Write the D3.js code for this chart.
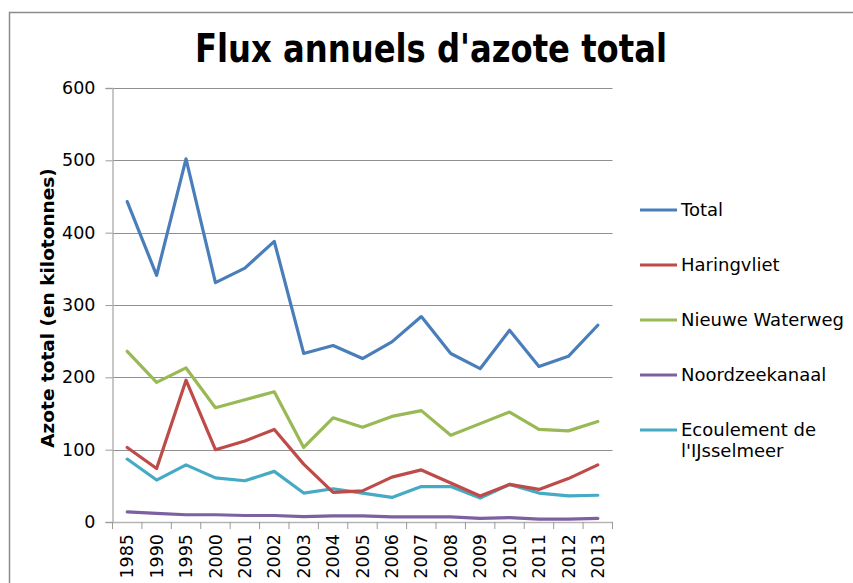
<!DOCTYPE html>
<html>
<head>
<meta charset="utf-8">
<script src="https://cdn.jsdelivr.net/npm/d3@7"></script>
<style>
body { margin: 0; background: #fff; }
text { font-family: "DejaVu Sans", Verdana, sans-serif; }
</style>
</head>
<body>
<script>
let years = ["1985","1990","1995","2000","2001","2002","2003","2004","2005","2006","2007","2008","2009","2010","2011","2012","2013"]
let yTicks = [0,100,200,300,400,500,600]
let seriesNames = ["Total","Haringvliet","Nieuwe Waterweg","Noordzeekanaal","Ecoulement de l'IJsselmeer"]
let colors = ["#4a7ebb","#be4b48","#98b954","#7d60a0","#46aac5"]

let total = [443,341,502,331,351,388,233,244,226,249,284,233,212,265,215,229,272]
let haringvliet = [103,74,196,100,112,128,80,41,43,62,72,54,36,52,45,60,79]
let nieuweWaterweg = [236,193,213,158,169,180,103,144,131,146,154,120,136,152,128,126,139]
let noordzeekanaal = [14,12,10,10,9,9,7.5,8.5,8.5,7,7,7,5,6,4,4,5]
let ijsselmeer = [87,58,79,61,57,70,40,46,40,34,49,49,33,52,40,36,37]

let allSeries = [total,haringvliet,nieuweWaterweg,noordzeekanaal,ijsselmeer]

let w = 853
let h = 583
let svg = d3.select("body")
    .append("svg")
    .attr("width", w)
    .attr("height", h)

// outer frame
svg.append("rect")
    .attr("x", 9.5)
    .attr("y", 12.5)
    .attr("width", 900)
    .attr("height", 700)
    .attr("fill", "#fff")
    .attr("stroke", "#8c8c8c")
    .attr("stroke-width", 1.5)

svg.append("text")
    .attr("x", 431)
    .attr("y", 62)
    .attr("text-anchor", "middle")
    .attr("font-size", 39)
    .attr("font-weight", "bold")
    .attr("textLength", 472)
    .attr("lengthAdjust", "spacingAndGlyphs")
    .text("Flux annuels d'azote total")

let pLeft = 112.5, pRight = 612.5, pTop = 88, pBottom = 522
let xScale = d3.scaleBand()
    .domain(years)
    .range([pLeft, pRight])
let yScale = d3.scaleLinear()
    .domain([0,600])
    .range([pBottom, pTop])

// gridlines
svg.append("g")
    .selectAll("line")
    .data(yTicks.filter(d=>d>0))
    .enter()
    .append("line")
    .attr("x1", pLeft)
    .attr("x2", pRight)
    .attr("y1", d=>Math.round(yScale(d))+0.5)
    .attr("y2", d=>Math.round(yScale(d))+0.5)
    .attr("stroke", "#8f8f8f")
    .attr("stroke-width", 1)

let yAxis = d3.axisLeft(yScale)
    .tickValues(yTicks)
    .tickSize(7)
    .tickPadding(10)
let yg = svg.append("g")
    .attr("transform", `translate(${pLeft},0)`)
    .call(yAxis)
yg.select(".domain").attr("stroke", "#b5b5b5").attr("stroke-width", 1.5)
yg.selectAll(".tick line").attr("stroke", "#9a9a9a")
yg.selectAll(".tick text")
    .attr("font-size", 17.5)
    .attr("font-family", "DejaVu Sans")
    .attr("fill", "#000")

let xAxis = d3.axisBottom(xScale)
    .tickSize(0)
let xg = svg.append("g")
    .attr("transform", `translate(0,${pBottom})`)
    .call(xAxis)
xg.select(".domain").attr("stroke", "#b5b5b5").attr("stroke-width", 1.5)
xg.selectAll(".tick text")
    .attr("font-size", 17.5)
    .attr("font-family", "DejaVu Sans")
    .attr("fill", "#000")
    .attr("transform", "rotate(-90)")
    .attr("text-anchor", "end")
    .attr("x", -12)
    .attr("y", 0)
    .attr("dy", "0.35em")
// band boundary ticks
xg.selectAll(".bt")
    .data(years.map(d=>xScale(d)).concat([pRight]))
    .enter()
    .append("line")
    .attr("x1", d=>d)
    .attr("x2", d=>d)
    .attr("y1", 0)
    .attr("y2", 7)
    .attr("stroke", "#9a9a9a")

svg.append("text")
    .attr("transform", "translate(54,308) rotate(-90)")
    .attr("text-anchor", "middle")
    .attr("font-size", 18.5)
    .attr("font-weight", "bold")
    .text("Azote total (en kilotonnes)")

let line = d3.line()
    .x((d,i)=>xScale(years[i]) + xScale.bandwidth()/2)
    .y(d=>yScale(d))

// draw bottom series first so Total sits on top like the reference
let order = [4,3,2,1,0]
svg.append("g")
    .selectAll("path")
    .data(order)
    .enter()
    .append("path")
    .attr("d", i=>line(allSeries[i]))
    .attr("fill", "none")
    .attr("stroke", i=>colors[i])
    .attr("stroke-width", 3.2)
    .attr("stroke-linejoin", "round")
    .attr("stroke-linecap", "round")

// legend
let legY = [210,265,320,375,430]
let leg = svg.append("g")
    .selectAll("g")
    .data(seriesNames)
    .enter()
    .append("g")
    .attr("transform", (d,i)=>`translate(640,${legY[i]})`)
leg.append("line")
    .attr("x1", 0)
    .attr("x2", 37)
    .attr("stroke", (d,i)=>colors[i])
    .attr("stroke-width", 3.2)
leg.append("text")
    .attr("font-size", 18)
    .each(function(d){
        let parts = d=="Ecoulement de l'IJsselmeer" ? ["Ecoulement de","l'IJsselmeer"] : [d]
        d3.select(this).selectAll("tspan")
            .data(parts)
            .enter()
            .append("tspan")
            .attr("x", 41)
            .attr("dy", (p,j)=>j==0 ? "0.35em" : 21)
            .text(p=>p)
    })
</script>
</body>
</html>
